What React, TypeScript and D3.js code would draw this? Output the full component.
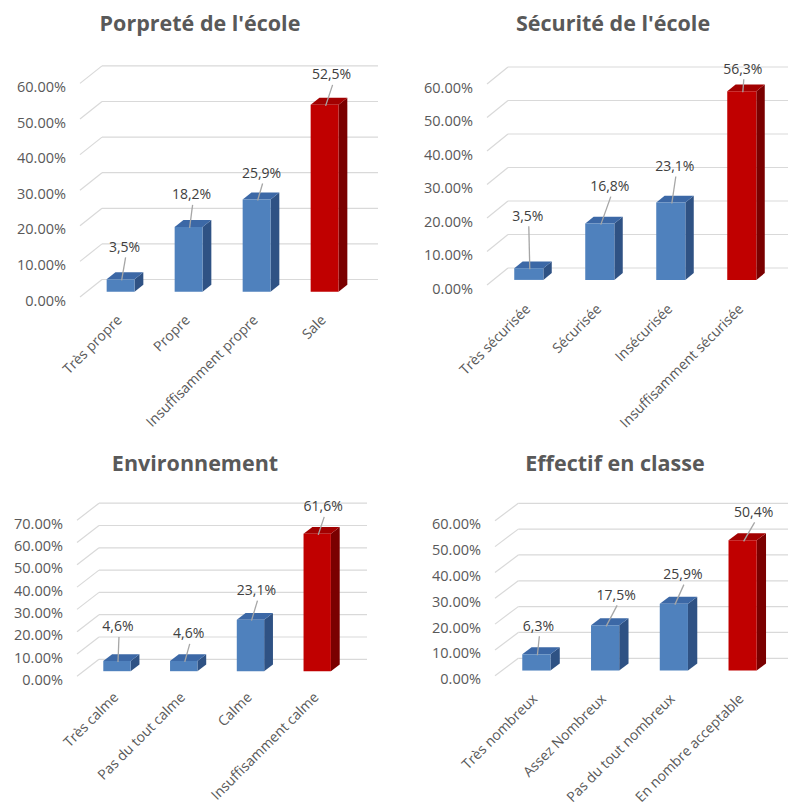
import React from "react";
import * as d3 from "d3";

// Category labels and percentages for each survey question
const proprCategories = ["Très propre", "Propre", "Insuffisamment propre", "Sale"];
const proprValues = [3.5, 18.2, 25.9, 52.5];
const proprTicks = [0, 10, 20, 30, 40, 50, 60];

const securCategories = ["Très sécurisée", "Sécurisée", "Insécurisée", "Insuffisamment sécurisée"];
const securValues = [3.5, 16.8, 23.1, 56.3];
const securTicks = [0, 10, 20, 30, 40, 50, 60];

const envCategories = ["Très calme", "Pas du tout calme", "Calme", "Insuffisamment calme"];
const envValues = [4.6, 4.6, 23.1, 61.6];
const envTicks = [0, 10, 20, 30, 40, 50, 60, 70];

const effCategories = ["Très nombreux", "Assez Nombreux", "Pas du tout nombreux", "En nombre acceptable"];
const effValues = [6.3, 17.5, 25.9, 50.4];
const effTicks = [0, 10, 20, 30, 40, 50, 60];

type Layout = {
  titleX: number;
  titleY: number;
  frontLeft: number;
  frontRight: number;
  base: number;
  top: number;
  dx: number;
  dy: number;
  gridEnd: number;
  xLabelDy: number;
  calloutLift: number[];
  calloutShift: number[];
};

const BLUE = { front: "#4f81bd", top: "#3c68a6", side: "#2f5284" };
const RED = { front: "#c00000", top: "#a20000", side: "#7a0000" };
const TEXT = "#595959";
const GRID = "#d9d9d9";
const FONT = "'Open Sans', 'DejaVu Sans', sans-serif";

const pctTick = (t: number) => d3.format(".2f")(t) + "%";
const pctLabel = (v: number) => d3.format(".1f")(v).replace(".", ",") + "%";

function Bar3DChart({
  title,
  categories,
  values,
  ticks,
  layout,
  alertIndex,
}: {
  title: string;
  categories: string[];
  values: number[];
  ticks: number[];
  layout: Layout;
  alertIndex: number;
}) {
  const L = layout;
  const maxTick = d3.max(ticks) as number;
  const y = d3.scaleLinear().domain([0, maxTick]).range([L.base, L.top]);
  const x = d3.scaleBand<string>().domain(categories).range([L.frontLeft, L.frontRight]);
  const barW = x.bandwidth() * 0.41;
  const d0 = 0.3;
  const d1 = 0.7;
  // oblique projection: depth 0 = front plane, depth 1 = back wall
  const P = (px: number, v: number, d: number): [number, number] => [px + d * L.dx, y(v) - d * L.dy];
  const poly = (pts: [number, number][]) => pts.map((p) => p.join(",")).join(" ");

  return (
    <g>
      <text
        x={L.titleX}
        y={L.titleY}
        textAnchor="middle"
        dominantBaseline="central"
        fontFamily={FONT}
        fontWeight={700}
        fontSize={21.5}
        fill={TEXT}
      >
        {title}
      </text>

      {ticks.map((t) => {
        const [fx, fy] = P(L.frontLeft, t, 0);
        const [bx, by] = P(L.frontLeft, t, 1);
        return (
          <g key={"g" + t}>
            <line x1={fx} y1={fy} x2={bx} y2={by} stroke={GRID} strokeWidth={1.2} />
            <line x1={bx} y1={by} x2={L.gridEnd} y2={by} stroke={GRID} strokeWidth={1.2} />
            <text
              x={fx - 14}
              y={fy + 3}
              textAnchor="end"
              dominantBaseline="central"
              fontFamily={FONT}
              fontSize={14.5}
              fill={TEXT}
            >
              {pctTick(t)}
            </text>
          </g>
        );
      })}

      {categories.map((c, i) => {
        const v = values[i];
        const col = i === alertIndex ? RED : BLUE;
        const x0 = (x(c) as number) + (x.bandwidth() - barW) / 2;
        const x1 = x0 + barW;
        const front: [number, number][] = [P(x0, v, d0), P(x1, v, d0), P(x1, 0, d0), P(x0, 0, d0)];
        const topF: [number, number][] = [P(x0, v, d0), P(x1, v, d0), P(x1, v, d1), P(x0, v, d1)];
        const side: [number, number][] = [P(x1, v, d0), P(x1, v, d1), P(x1, 0, d1), P(x1, 0, d0)];
        const [cx, cy] = P(x0 + barW / 2, v, d0);
        const lx = cx + L.calloutShift[i];
        const ly = cy - L.calloutLift[i];
        const [ax, ay] = P((x(c) as number) + x.bandwidth() / 2, 0, 0);
        return (
          <g key={c}>
            <polygon points={poly(side)} fill={col.side} />
            <polygon points={poly(topF)} fill={col.top} />
            <polygon points={poly(front)} fill={col.front} />
            <line x1={lx + 1} y1={ly + 11} x2={cx + 1} y2={cy + 1} stroke="#a6a6a6" strokeWidth={1.3} />
            <text
              x={lx}
              y={ly}
              textAnchor="middle"
              dominantBaseline="central"
              fontFamily={FONT}
              fontSize={14}
              fill="#404040"
            >
              {pctLabel(v)}
            </text>
            <text
              transform={`translate(${ax + 5},${ay + L.xLabelDy}) rotate(-45)`}
              textAnchor="end"
              dominantBaseline="central"
              fontFamily={FONT}
              fontSize={14}
              fill={TEXT}
            >
              {c}
            </text>
          </g>
        );
      })}
    </g>
  );
}

const layouts: Record<string, Layout> = {
  propr: {
    titleX: 200, titleY: 22, frontLeft: 80, frontRight: 352, base: 297, top: 83.4,
    dx: 22, dy: 17.5, gridEnd: 378, xLabelDy: 20,
    calloutLift: [33, 33, 27, 31], calloutShift: [4, 3, 5, 7],
  },
  secur: {
    titleX: 613, titleY: 22, frontLeft: 487, frontRight: 771, base: 285, top: 84,
    dx: 21, dy: 17, gridEnd: 800, xLabelDy: 21,
    calloutLift: [53, 38, 37, 23], calloutShift: [-1, 10, 4, 1],
  },
  env: {
    titleX: 195, titleY: 462, frontLeft: 77, frontRight: 344, base: 676.3, top: 520.2,
    dx: 22, dy: 17, gridEnd: 367, xLabelDy: 18,
    calloutLift: [35, 28, 30, 28], calloutShift: [1, 5, 6, 6],
  },
  eff: {
    titleX: 615, titleY: 462, frontLeft: 495, frontRight: 770, base: 675.8, top: 520.8,
    dx: 23.3, dy: 17.5, gridEnd: 800, xLabelDy: 20,
    calloutLift: [29, 31, 30, 29], calloutShift: [2, 11, 9, 11],
  },
};

export default function App() {
  return (
    <svg
      width={788}
      height={810}
      viewBox="0 0 788 810"
      style={{ position: "absolute", left: 0, top: 0, background: "#ffffff" }}
    >
      <rect width={788} height={810} fill="#ffffff" />
      <Bar3DChart title="Porpreté de l'école" categories={proprCategories} values={proprValues} ticks={proprTicks} layout={layouts.propr} alertIndex={3} />
      <Bar3DChart title="Sécurité de l'école" categories={securCategories} values={securValues} ticks={securTicks} layout={layouts.secur} alertIndex={3} />
      <Bar3DChart title="Environnement" categories={envCategories} values={envValues} ticks={envTicks} layout={layouts.env} alertIndex={3} />
      <Bar3DChart title="Effectif en classe" categories={effCategories} values={effValues} ticks={effTicks} layout={layouts.eff} alertIndex={3} />
    </svg>
  );
}
